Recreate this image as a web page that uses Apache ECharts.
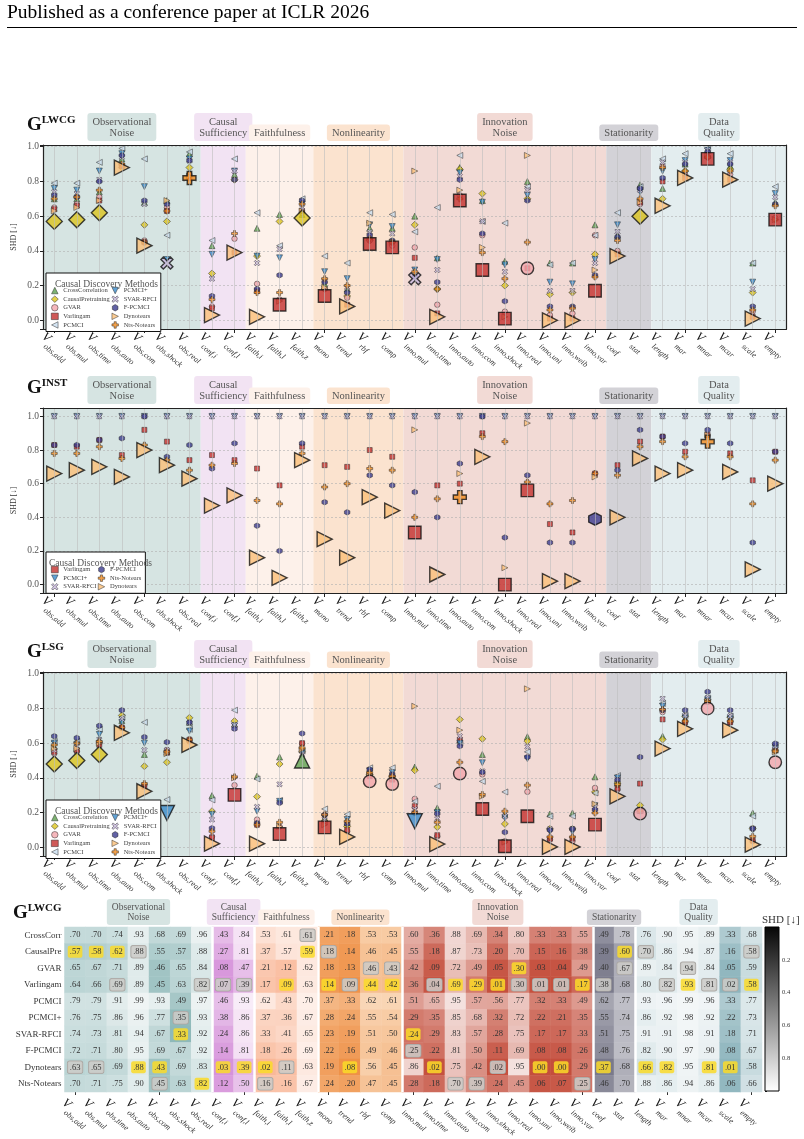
<!DOCTYPE html>
<html><head><meta charset="utf-8">
<script src="https://cdn.jsdelivr.net/npm/echarts@6/dist/echarts.min.js"></script>
<style>html,body{margin:0;padding:0;background:#fff}#c{width:804px;height:1139px}</style>
</head><body><div id="c"></div><script>
// ---------------- DATA ----------------
const categories = ['obs,add','obs,mul','obs,time','obs,auto','obs,com','obs,shock','obs,real','conf,i','conf,l','faith,i','faith,l','faith,z','mono','trend','rbf','comp','inno,mul','inno,time','inno,auto','inno,com','inno,shock','inno,real','inno,uni','inno,weib','inno,var','coef','stat','length','mar','mnar','mcar','scale','empty'];
const groupNames = ['Observational\nNoise','Causal\nSufficiency','Faithfulness','Nonlinearity','Innovation\nNoise','Stationarity','Data\nQuality'];
const groupStart = [0, 7, 9, 12, 16, 25, 27];
const groupEnd   = [6, 8, 11, 15, 24, 26, 32];
const methodNames = ['CrossCorrelation','CausalPretraining','GVAR','Varlingam','PCMCI','PCMCI+','SVAR-RFCI','F-PCMCI','Dynotears','Nts-Notears'];
const heatRowLabels = ['CrossCorr','CausalPre','GVAR','Varlingam','PCMCI','PCMCI+','SVAR-RFCI','F-PCMCI','Dynotears','Nts-Notears'];
const yTicks = [0.0, 0.2, 0.4, 0.6, 0.8, 1.0];

// G^LWCG (also the heatmap)
const lwcg_CrossCorrelation = [.70,.70,.74,.93,.68,.69,.96,.43,.84,.53,.61,.61,.21,.18,.53,.53,.60,.36,.88,.69,.34,.80,.33,.33,.55,.49,.78,.76,.90,.95,.89,.33,.68];
const lwcg_CausalPretraining = [.57,.58,.62,.88,.55,.57,.88,.27,.81,.37,.57,.59,.18,.14,.46,.45,.55,.18,.87,.73,.20,.70,.15,.16,.38,.39,.60,.70,.86,.94,.87,.16,.58];
const lwcg_GVAR = [.65,.67,.71,.89,.46,.65,.84,.08,.47,.21,.12,.62,.18,.13,.46,.43,.42,.09,.72,.49,.05,.30,.03,.04,.49,.40,.67,.89,.84,.94,.84,.05,.59];
const lwcg_Varlingam = [.64,.66,.69,.89,.45,.63,.82,.07,.39,.17,.09,.63,.14,.09,.44,.42,.36,.04,.69,.29,.01,.30,.01,.01,.17,.38,.68,.80,.82,.93,.81,.02,.58];
const lwcg_PCMCI = [.79,.79,.91,.99,.93,.49,.97,.46,.93,.62,.43,.70,.37,.33,.62,.61,.51,.65,.95,.57,.56,.77,.32,.33,.49,.62,.77,.93,.96,.99,.96,.33,.77];
const lwcg_PCMCIplus = [.76,.75,.86,.96,.77,.35,.93,.38,.86,.37,.36,.67,.28,.24,.55,.54,.29,.35,.85,.68,.32,.72,.22,.21,.35,.55,.74,.86,.92,.98,.92,.22,.73];
const lwcg_SVARRFCI = [.74,.73,.81,.94,.67,.33,.92,.24,.86,.33,.41,.65,.23,.19,.51,.50,.24,.29,.83,.57,.28,.75,.17,.17,.33,.51,.75,.91,.91,.98,.91,.18,.71];
const lwcg_FPCMCI = [.72,.71,.80,.95,.69,.67,.92,.14,.81,.18,.26,.69,.22,.16,.49,.46,.25,.22,.81,.50,.11,.69,.08,.08,.26,.48,.76,.82,.90,.97,.90,.08,.67];
const lwcg_Dynotears = [.63,.65,.69,.88,.43,.69,.83,.03,.39,.02,.11,.63,.19,.08,.56,.45,.86,.02,.75,.42,.02,.95,.00,.00,.29,.37,.68,.66,.82,.95,.81,.01,.58];
const lwcg_NtsNotears = [.70,.71,.75,.90,.45,.63,.82,.12,.50,.16,.16,.67,.24,.20,.47,.45,.28,.18,.70,.39,.24,.45,.06,.07,.25,.46,.70,.88,.86,.94,.86,.06,.66];
// best (yellow) and second best (grey) method index per column of G^LWCG
const lwcgBest   = [1,1,1,8,8,6,9,8,8,8,3,1,3,8,3,3,6,8,3,3,3,2,8,8,3,8,1,8,8,3,8,8,3];
const lwcgSecond = [8,8,3,1,9,5,3,3,3,9,8,0,1,3,2,2,7,3,9,9,8,3,3,3,9,3,2,1,3,2,3,3,1];

// G^INST
const inst_Varlingam = [.83,.82,.86,.77,.92,.85,.74,.77,.74,.69,.59,.82,.71,.70,.80,.76,.31,.59,.60,.90,.00,.56,.36,.31,.66,.71,.85,.88,.79,.89,.78,.62,.79];
const inst_PCMCIplus = [1,1,1,1,1,1,1,1,1,1,1,1,1,1,1,1,1,1,1,1,1,1,1,1,1,1,1,1,1,1,1,1,1];
const inst_SVARRFCI = [1,1,1,1,1,1,1,1,1,1,1,1,1,1,1,1,1,1,1,1,1,1,1,1,1,1,1,1,1,1,1,1,1];
const inst_FPCMCI = [.83,.83,.86,.87,1.0,.76,.83,.69,.84,.35,.20,.84,.49,.43,.65,.59,.55,.40,.72,1.0,.28,.65,.25,.25,.39,.68,.92,.88,.84,.92,.84,.25,.79];
const inst_NtsNotears = [.78,.78,.82,.75,.83,.74,.68,.71,.72,.50,.48,.78,.58,.60,.69,.68,.40,.51,.52,.88,.85,.61,.48,.50,.66,.65,.82,.85,.76,.85,.76,.48,.74];
const inst_Dynotears = [.66,.68,.70,.64,.80,.71,.63,.47,.53,.16,.04,.74,.27,.16,.52,.44,.92,.06,.66,.76,.10,.96,.02,.02,.64,.40,.75,.66,.68,.89,.67,.09,.60];

// G^LSG
const lsg_CrossCorrelation = [.58,.57,.62,.73,.535,.55,.72,.298,.71,.41,.52,.50,.17,.14,.43,.42,.462,.227,.62,.535,.19,.637,.192,.198,.406,.37,.22,.64,.74,.85,.74,.198,.56];
const lsg_CausalPretraining = [.48,.50,.535,.76,.467,.49,.746,.208,.727,.292,.48,.55,.15,.12,.42,.41,.444,.117,.737,.625,.135,.612,.106,.106,.319,.37,.242,.621,.755,.85,.75,.108,.56];
const lsg_GVAR = [.54,.55,.60,.69,.36,.56,.61,.063,.358,.16,.12,.598,.14,.092,.38,.365,.279,.063,.425,.42,.035,.32,.044,.035,.342,.333,.194,.779,.72,.80,.72,.035,.49];
const lsg_Varlingam = [.55,.56,.59,.69,.35,.545,.62,.054,.302,.13,.077,.60,.115,.10,.41,.39,.237,.07,.62,.221,.006,.179,.05,.05,.131,.34,.367,.737,.72,.84,.72,.04,.56];
const lsg_PCMCI = [.61,.61,.68,.75,.72,.275,.68,.273,.79,.394,.27,.554,.221,.19,.458,.458,.265,.352,.60,.38,.319,.55,.179,.18,.313,.413,.21,.829,.76,.86,.756,.18,.59];
const lsg_PCMCIplus = [.60,.59,.65,.72,.60,.198,.67,.19,.70,.208,.265,.544,.17,.16,.44,.43,.15,.20,.60,.487,.17,.51,.09,.09,.24,.40,.21,.813,.746,.85,.74,.10,.57];
const lsg_SVARRFCI = [.56,.58,.62,.74,.56,.56,.717,.16,.704,.233,.363,.535,.16,.14,.43,.42,.22,.165,.64,.438,.179,.58,.106,.106,.231,.39,.21,.856,.76,.862,.756,.108,.583];
const lsg_FPCMCI = [.64,.63,.70,.79,.635,.606,.72,.11,.683,.14,.256,.656,.188,.135,.448,.42,.198,.194,.583,.433,.087,.52,.10,.106,.217,.387,.52,.79,.79,.896,.79,.108,.598];
const lsg_Dynotears = [.57,.57,.60,.66,.323,.54,.59,.021,.40,.021,.12,.563,.13,.06,.42,.40,.813,.019,.675,.294,.03,.913,.002,.002,.25,.294,.21,.569,.683,.84,.675,.015,.55];
const lsg_NtsNotears = [.59,.60,.61,.69,.367,.55,.62,.092,.406,.13,.144,.573,.188,.15,.43,.41,.20,.144,.49,.304,.208,.358,.06,.06,.198,.362,.21,.794,.727,.84,.727,.063,.554];

// ---------------- STYLE ----------------
const FONT = 'Liberation Serif';
const TU = 'path://M5,0L10,10L0,10Z';
const TL = 'path://M0,5L10,0L10,10Z';
const TD = 'path://M0,0L10,0L5,10Z';
const TR = 'path://M10,5L0,0L0,10Z';
const XP = 'path://M0,2L2,0L5,3L8,0L10,2L7,5L10,8L8,10L5,7L2,10L0,8L3,5Z';
const HP = 'path://M5,0L9.33,2.5L9.33,7.5L5,10L0.67,7.5L0.67,2.5Z';
const PP = 'path://M3.3,0H6.7V3.3H10V6.7H6.7V10H3.3V6.7H0V3.3H3.3Z';
const methodStyle = {
  'CrossCorrelation':  {symbol:TU,        color:'#5da04f', small:6,   big:15},
  'CausalPretraining': {symbol:'diamond', color:'#dcc41e', small:7,   big:16},
  'GVAR':              {symbol:'circle',  color:'#f2a5ab', small:5.5, big:12.5},
  'Varlingam':         {symbol:'rect',    color:'#c3302d', small:5,   big:12.5},
  'PCMCI':             {symbol:TL,        color:'#c9ddef', small:6,   big:14},
  'PCMCI+':            {symbol:TD,        color:'#3a8bcb', small:6,   big:15},
  'SVAR-RFCI':         {symbol:XP,        color:'#c9b9de', small:5.5, big:12},
  'F-PCMCI':           {symbol:HP,        color:'#3b3b8f', small:5.5, big:12.5},
  'Dynotears':         {symbol:TR,        color:'#fbbf78', small:6,   big:15},
  'Nts-Notears':       {symbol:PP,        color:'#f08a1d', small:6,   big:13}
};
const bandColors = ['#d6e4e2','#f2e3f3','#fdf1ea','#fbe3cf','#f2dad5','#d3d2d7','#e3edef'];
const groupCmaps = [
  {min:0, max:1,    colors:['#5e9b9b','#f0f5f5']},
  {min:0, max:1,    colors:['#d590d9','#fbf3fa']},
  {min:0, max:0.75, colors:['#f9b696','#fef3ee']},
  {min:0, max:0.65, colors:['#ed8737','#fadabc']},
  {min:0, max:1,    colors:['#c44e3c','#f7e9e6']},
  {min:0.35, max:0.8, colors:['#767688','#c4c4cb']},
  {min:0, max:1,    colors:['#8cb4bc','#f4f7f8']}
];

const lwcgSet = [['CrossCorrelation',lwcg_CrossCorrelation],['CausalPretraining',lwcg_CausalPretraining],['GVAR',lwcg_GVAR],['Varlingam',lwcg_Varlingam],['PCMCI',lwcg_PCMCI],['PCMCI+',lwcg_PCMCIplus],['SVAR-RFCI',lwcg_SVARRFCI],['F-PCMCI',lwcg_FPCMCI],['Dynotears',lwcg_Dynotears],['Nts-Notears',lwcg_NtsNotears]];
const instSet = [['Varlingam',inst_Varlingam],['PCMCI+',inst_PCMCIplus],['SVAR-RFCI',inst_SVARRFCI],['F-PCMCI',inst_FPCMCI],['Nts-Notears',inst_NtsNotears],['Dynotears',inst_Dynotears]];
const lsgSet = [['CrossCorrelation',lsg_CrossCorrelation],['CausalPretraining',lsg_CausalPretraining],['GVAR',lsg_GVAR],['Varlingam',lsg_Varlingam],['PCMCI',lsg_PCMCI],['PCMCI+',lsg_PCMCIplus],['SVAR-RFCI',lsg_SVARRFCI],['F-PCMCI',lsg_FPCMCI],['Dynotears',lsg_Dynotears],['Nts-Notears',lsg_NtsNotears]];

function argminBest(set) {
  return categories.map((c, i) => {
    let b = 0;
    set.forEach((s, k) => { if (s[1][i] < set[b][1][i]) b = k; });
    return b;
  });
}

const panels = [
  {sup:'LWCG', top:145, height:184, ymax:1.01, titleTop:110, set:lwcgSet, best:lwcgBest, legendTop:273, col1W:54, rows:5, legH:44, legTitleLeft:50},
  {sup:'INST', top:408, height:185, ymax:1.05, titleTop:373, set:instSet, best:argminBest(instSet), legendTop:552, col1W:38, rows:3, legH:28, legTitleLeft:44},
  {sup:'LSG',  top:672, height:184, ymax:1.01, titleTop:637, set:lsgSet, best:argminBest(lsgSet), legendTop:800, col1W:54, rows:5, legH:44, legTitleLeft:50}
];

// x tick labels: italic V with a lowered subscript, rotated
const xRich = {
  v: {fontFamily:FONT, fontStyle:'italic', fontSize:12.5, color:'#111', verticalAlign:'top', lineHeight:12},
  s: {fontFamily:FONT, fontStyle:'italic', fontSize:8, color:'#333', verticalAlign:'bottom', lineHeight:18}
};
const xLabelFmt = v => '{v|V}{s|' + v + '}';
const fmt2 = v => v.toFixed(2).replace(/^0/, '');

const option = {animation:false, backgroundColor:'#fff', title:[], legend:[], grid:[], xAxis:[], yAxis:[], series:[], visualMap:[],
  graphic:[
    {type:'text', left:7, top:3, style:{text:'Published as a conference paper at ICLR 2026', font:'19.5px "Liberation Serif"', fill:'#000'}},
    {type:'line', shape:{x1:7, y1:27.5, x2:797, y2:27.5}, style:{stroke:'#000', lineWidth:1}}
  ]};

function titleG(sup, left, top) {
  option.title.push({text:'{g|G}{s|' + sup + '}', left:left, top:top, z:10,
    textStyle:{rich:{
      g:{fontFamily:FONT, fontWeight:'bold', fontSize:19, color:'#111', lineHeight:21},
      s:{fontFamily:FONT, fontWeight:'bold', fontSize:11, color:'#111', verticalAlign:'top', lineHeight:21}}}});
}

// label-only category axis on a grid shifted left, so labels start left of the ticks
function labelAxis(left, right, top, height, margin) {
  const g = option.grid.length;
  option.grid.push({left:left, right:right, top:top, height:height});
  option.xAxis.push({type:'category', gridIndex:g, data:categories, position:'bottom',
    axisLine:{show:false}, axisTick:{show:false}, splitLine:{show:false},
    axisLabel:{interval:0, rotate:-40, margin:margin, formatter:xLabelFmt, rich:xRich}});
  option.yAxis.push({type:'value', gridIndex:g, min:0, max:1, show:false});
}

panels.forEach((P) => {
  const g = option.grid.length;
  option.grid.push({left:43, right:17.5, top:P.top, height:P.height});
  option.xAxis.push({type:'category', gridIndex:g, data:categories, position:'bottom', z:6,
    axisLine:{show:true, onZero:false, lineStyle:{color:'#222', width:1.2}},
    axisTick:{show:true, alignWithLabel:true, length:4, lineStyle:{color:'#222'}},
    axisLabel:{show:false}, splitLine:{show:false}});
  const xVal = option.xAxis.length;
  option.xAxis.push({type:'value', gridIndex:g, min:-0.5, max:32.5, position:'top', z:6,
    axisLine:{show:true, onZero:false, lineStyle:{color:'#222', width:1.2}},
    axisTick:{show:false}, axisLabel:{show:false}, splitLine:{show:false}});
  const yL = option.yAxis.length;
  option.yAxis.push({type:'value', gridIndex:g, min:-0.05, max:P.ymax, position:'left', z:2,
    name:'SHD [\u2193]', nameLocation:'middle', nameGap:25, nameMoveOverlap:false,
    nameTextStyle:{fontFamily:FONT, fontSize:8, color:'#333'},
    axisLine:{show:true, onZero:false, lineStyle:{color:'#222', width:1.2}},
    axisTick:{show:true, length:3, lineStyle:{color:'#222'}},
    axisLabel:{fontFamily:FONT, fontSize:9.5, color:'#555', margin:4,
      formatter: v => yTicks.some(t => Math.abs(t - v) < 1e-6) ? v.toFixed(1) : ''},
    splitLine:{show:true, lineStyle:{color:'#b0b0b0', width:0.6, type:[2,2]}}});
  option.yAxis.push({type:'value', gridIndex:g, min:-0.05, max:P.ymax, position:'right', z:6,
    axisLine:{show:true, onZero:false, lineStyle:{color:'#222', width:1.2}},
    axisTick:{show:false}, axisLabel:{show:false}, splitLine:{show:false}});

  // bands + group labels
  option.series.push({type:'scatter', xAxisIndex:xVal, yAxisIndex:yL, data:[[0,0]], symbolSize:0, silent:true, z:1,
    markArea:{silent:true, data: groupNames.map((n, k) => [
      {xAxis:groupStart[k]-0.5, yAxis:-0.05, name:n, itemStyle:{color:bandColors[k]},
       label:{show:true, position:'top', distance:4, color:'#555', fontFamily:FONT, fontSize:10.5, lineHeight:11.5,
              backgroundColor:bandColors[k], padding:[3,5,2,5], borderRadius:3}},
      {xAxis:groupEnd[k]+0.5, yAxis:P.ymax}])}});
  // vertical grid lines at category centres
  option.series.push({type:'scatter', xAxisIndex:xVal, yAxisIndex:yL, data:[[0,0]], symbolSize:0, silent:true, z:2,
    markLine:{silent:true, symbol:'none', label:{show:false}, lineStyle:{color:'#bdbdbd', width:0.6, type:'solid'},
      data: categories.map((c, i) => ({xAxis:i}))}});
  // methods
  P.set.forEach(([name, vals], k) => {
    const st = methodStyle[name];
    option.series.push({type:'scatter', name:name, xAxisIndex:xVal, yAxisIndex:yL, z:3,
      symbol:st.symbol, symbolSize:st.small,
      itemStyle:{color:st.color, borderColor:'#222', borderWidth:0.6},
      data: vals.map((v, i) => [i, v]).filter((d, i) => P.best[i] !== k)});
  });
  // best markers
  option.series.push({type:'scatter', xAxisIndex:xVal, yAxisIndex:yL, z:4,
    data: categories.map((c, i) => {
      const [name, vals] = P.set[P.best[i]];
      const st = methodStyle[name];
      return {value:[i, vals[i]], symbol:st.symbol, symbolSize:st.big,
        itemStyle:{color:st.color, borderColor:'#111', borderWidth:1.4}};
    })});
  labelAxis(30.5, 30, P.top, P.height, 8);
  titleG(P.sup, 22, P.titleTop);
  // legend
  option.legend.push({orient:'vertical', left:46, top:P.legendTop, height:P.legH, z:8,
    itemWidth:7, itemHeight:6.5, itemGap:1.5, padding:[14,4,3,5],
    borderColor:'#111', borderWidth:1, backgroundColor:'#fff', selectedMode:false,
    textStyle:{fontFamily:FONT, fontSize:6.5, color:'#444'},
    data: P.set.map(([name], k) => {
      const st = methodStyle[name];
      const it = {name:name, icon:st.symbol, itemStyle:{color:st.color, borderColor:'#222', borderWidth:0.6}};
      if (k < P.rows) it.textStyle = {width:P.col1W};
      return it;
    })});
  option.title.push({text:'Causal Discovery Methods', left:P.legTitleLeft, top:P.legendTop + 1, z:10,
    textStyle:{fontFamily:FONT, fontSize:9.5, fontWeight:'normal', color:'#555'}});
});

// ---------------- HEATMAP ----------------
const gH = option.grid.length;
option.grid.push({left:64.5, right:42, top:927, height:165});
const hx = option.xAxis.length;
option.xAxis.push({type:'category', gridIndex:gH, data:categories,
  axisLine:{show:false}, axisTick:{show:true, alignWithLabel:true, length:3, lineStyle:{color:'#333'}},
  axisLabel:{show:false}, splitLine:{show:false}});
const hxv = option.xAxis.length;
option.xAxis.push({type:'value', gridIndex:gH, min:-0.5, max:32.5, show:false});
const hy = option.yAxis.length;
option.yAxis.push({type:'category', gridIndex:gH, data:heatRowLabels, inverse:true,
  axisLine:{show:false}, axisTick:{show:true, length:2, alignWithLabel:true, lineStyle:{color:'#333'}},
  axisLabel:{fontFamily:FONT, fontSize:9, color:'#333', margin:3}, splitLine:{show:false}});
const hyv = option.yAxis.length;
option.yAxis.push({type:'value', gridIndex:gH, min:0, max:1, show:false});

const heatLabelRich = {
  n:{fontFamily:FONT, fontSize:8.5, color:'#333'},
  b:{fontFamily:FONT, fontSize:8.5, color:'#333', backgroundColor:'rgba(250,218,40,0.85)', padding:[2,2,1,2], borderRadius:2},
  g:{fontFamily:FONT, fontSize:8.5, color:'#333', backgroundColor:'rgba(205,203,200,0.85)', borderColor:'#a9a6a2', borderWidth:0.8, padding:[2,2,1,2], borderRadius:2}
};
groupNames.forEach((n, k) => {
  const data = [];
  for (let c = groupStart[k]; c <= groupEnd[k]; c++) {
    lwcgSet.forEach(([name, vals], r) => data.push([c, r, vals[c]]));
  }
  const si = option.series.length;
  option.series.push({type:'heatmap', xAxisIndex:hx, yAxisIndex:hy, data:data, z:2, silent:true,
    label:{show:true, rich:heatLabelRich, formatter: p => {
      const c = p.value[0], r = p.value[1], s = fmt2(p.value[2]);
      if (lwcgBest[c] === r) return '{b|' + s + '}';
      if (lwcgSecond[c] === r) return '{g|' + s + '}';
      return '{n|' + s + '}';
    }}});
  option.visualMap.push({type:'continuous', show:false, seriesIndex:si, dimension:2,
    min:groupCmaps[k].min, max:groupCmaps[k].max, inRange:{color:groupCmaps[k].colors}});
});
option.series.push({type:'scatter', xAxisIndex:hxv, yAxisIndex:hyv, data:[[0,0]], symbolSize:0, silent:true, z:5,
  markArea:{silent:true, data: groupNames.map((n, k) => [
    {xAxis:groupStart[k]-0.5, yAxis:0, name:n, itemStyle:{color:'rgba(0,0,0,0)'},
     label:{show:true, position:'top', distance:2, color:'#555', fontFamily:FONT, fontSize:9.5, lineHeight:10.5,
            backgroundColor:bandColors[k], padding:[3,5,2,5], borderRadius:3}},
    {xAxis:groupEnd[k]+0.5, yAxis:1}])},
  markLine:{silent:true, symbol:'none', label:{show:false}, lineStyle:{color:'#fff', width:2.5, type:'solid'},
    data: groupEnd.slice(0, -1).map(e => ({xAxis:e + 0.5}))}});
labelAxis(51.5, 55, 927, 165, 11.5);

// colour bar
const gC = option.grid.length;
option.grid.push({left:765, width:14, top:927, height:164});
const cx = option.xAxis.length;
option.xAxis.push({type:'value', gridIndex:gC, min:0, max:1, show:false});
const cy = option.yAxis.length;
option.yAxis.push({type:'value', gridIndex:gC, min:0, max:1, interval:0.2, inverse:true, position:'right',
  axisLine:{show:false}, axisTick:{show:true, length:2, lineStyle:{color:'#222'}},
  axisLabel:{fontFamily:FONT, fontSize:6.5, color:'#333', margin:3, formatter: v => (v > 0.01 && v < 0.99) ? v.toFixed(1) : ''},
  splitLine:{show:false}});
option.series.push({type:'scatter', xAxisIndex:cx, yAxisIndex:cy, data:[[0,0]], symbolSize:0, silent:true, z:3,
  markArea:{silent:true, data:[[{xAxis:0, yAxis:0, itemStyle:{
      color:{type:'linear', x:0, y:0, x2:0, y2:1, colorStops:[{offset:0, color:'#050505'}, {offset:1, color:'#ffffff'}]},
      borderColor:'#000', borderWidth:1}}, {xAxis:1, yAxis:1}]]}});
option.title.push({text:'SHD [\u2193]', left:757, top:910, textStyle:{fontFamily:FONT, fontSize:11, fontWeight:'normal', color:'#333'}});
titleG('LWCG', 8, 898);

const chart = echarts.init(document.getElementById('c'), null, {renderer:'canvas'});
chart.setOption(option);
</script></body></html>
